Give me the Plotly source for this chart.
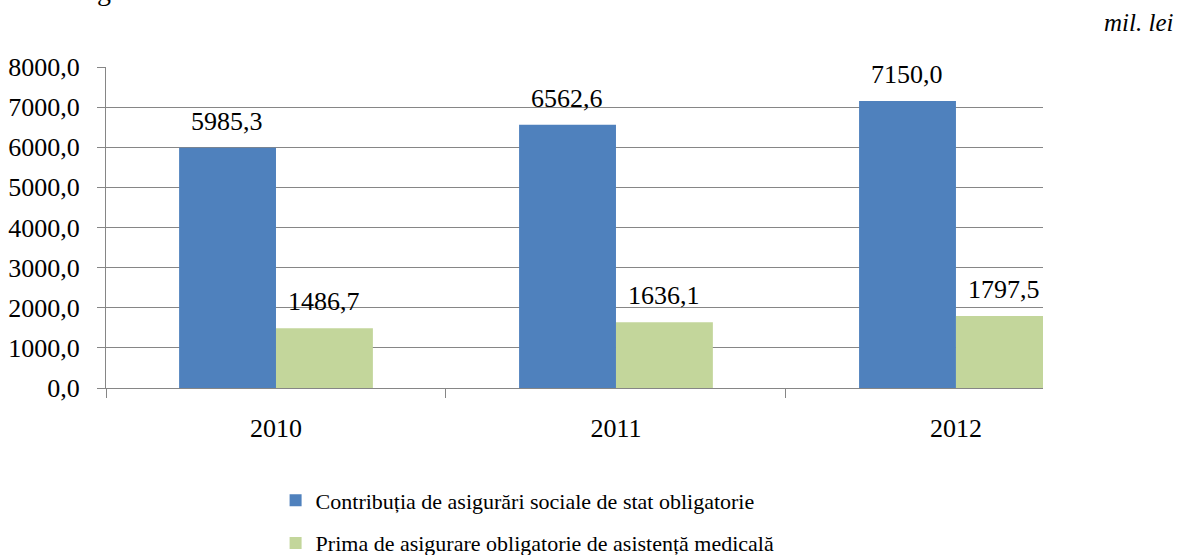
import plotly.graph_objects as go

# date (mil. lei)
ani = ["2010", "2011", "2012"]
contributii = [5985.3, 6562.6, 7150.0]
prima_medicala = [1486.7, 1636.1, 1797.5]
serii = [
    ("Contribuția de asigurări sociale de stat obligatorie", contributii, "#4F81BD"),
    ("Prima de asigurare obligatorie de asistență medicală", prima_medicala, "#C3D69B"),
]
y_ticks = [0, 1000, 2000, 3000, 4000, 5000, 6000, 7000, 8000]

FONT = "Liberation Serif, Times New Roman, serif"
GRID = "#868686"


def fmt(v):
    return f"{v:.1f}".replace(".", ",")


fig = go.Figure()
for i, (nume, valori, culoare) in enumerate(serii):
    fig.add_trace(go.Bar(
        x=ani, y=valori, name=nume, legendgroup=f"g{i}",
        marker=dict(color=culoare, line=dict(width=0)),
        hoverinfo="skip",
    ))

# etichetele valorilor, centrate deasupra fiecarei bare
bar_px = 97
for i, (_, valori, _) in enumerate(serii):
    dx = (-0.5 if i == 0 else 0.5) * bar_px
    for j, v in enumerate(valori):
        # pe axa de categorii adnotarea primeste indexul categoriei
        fig.add_annotation(
            x=j, y=v, text=fmt(v), showarrow=False,
            xref="x", yref="y", yanchor="bottom", xanchor="center",
            xshift=dx, yshift=10,
            font=dict(family=FONT, size=26, color="black"),
        )

fig.add_annotation(
    x=1.141, y=1.14, xref="paper", yref="paper", text="<i>mil. lei</i>",
    showarrow=False, xanchor="right", yanchor="middle",
    font=dict(family=FONT, size=25, color="black"),
)
# coada titlului taiat din imaginea originala
fig.add_annotation(
    x=-0.002, y=1.184, xref="paper", yref="paper", text="g",
    showarrow=False, xanchor="center", yanchor="bottom",
    font=dict(family=FONT, size=28, color="black"),
)

fig.update_layout(
    width=1179, height=555,
    margin=dict(l=106, r=136, t=67, b=167, autoexpand=False),
    paper_bgcolor="white", plot_bgcolor="white",
    barmode="group", bargap=0.43, bargroupgap=0,
    separators=", ",
    font=dict(family=FONT, size=26, color="black"),
    showlegend=True,
    legend=dict(
        x=0.181, y=-0.285, xanchor="left", yanchor="top",
        orientation="v", tracegroupgap=11,
        font=dict(family=FONT, size=22, color="black"),
        bgcolor="rgba(0,0,0,0)",
    ),
    xaxis=dict(
        type="category", range=[-0.5, 2.256],
        showline=True, linecolor=GRID, linewidth=1,
        ticks="outside", tickson="boundaries", ticklen=9, tickcolor=GRID,
        showgrid=False, ticklabelstandoff=17,
        tickfont=dict(family=FONT, size=26, color="black"),
    ),
    yaxis=dict(
        range=[0, 8000], tickvals=y_ticks, tickformat=".1f",
        showline=True, linecolor=GRID, linewidth=1,
        ticks="outside", ticklen=8, tickcolor=GRID,
        showgrid=True, gridcolor=GRID, gridwidth=1,
        zeroline=False, ticklabelstandoff=12,
        tickfont=dict(family=FONT, size=26, color="black"),
    ),
)

# fara marginea implicita a paginii, ca figura sa umple fereastra
fig.write_html(
    "out.html",
    config={"displayModeBar": False},
    post_script="document.body.style.margin = '0';",
)
